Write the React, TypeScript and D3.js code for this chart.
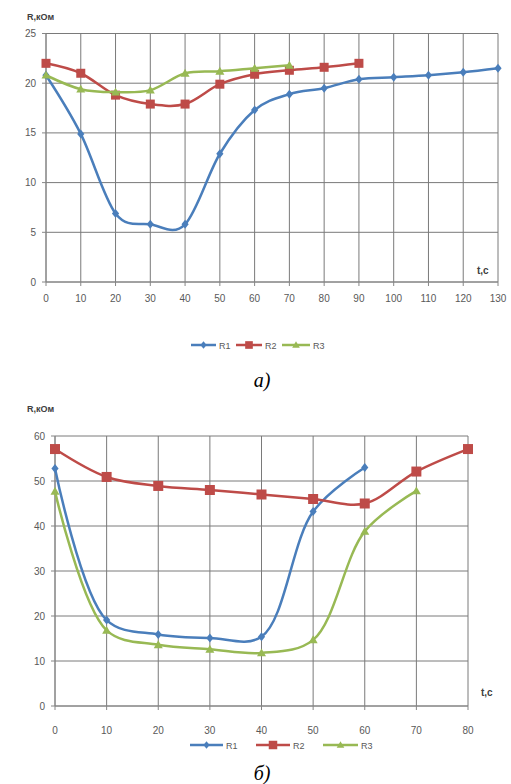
import React from "react";
import * as d3 from "d3";

// ---- Chart а) data ----
const tA = [0, 10, 20, 30, 40, 50, 60, 70, 80, 90, 100, 110, 120, 130];
const a_R1 = [20.8, 14.9, 6.9, 5.8, 5.8, 12.9, 17.3, 18.9, 19.5, 20.4, 20.6, 20.8, 21.1, 21.5];
const a_R2 = [22.0, 21.0, 18.8, 17.9, 17.9, 19.9, 20.9, 21.3, 21.6, 22.0];
const a_R3 = [20.8, 19.4, 19.1, 19.3, 21.0, 21.2, 21.5, 21.8];
const a_xTicks = [0, 10, 20, 30, 40, 50, 60, 70, 80, 90, 100, 110, 120, 130];
const a_yTicks = [0, 5, 10, 15, 20, 25];

// ---- Chart б) data ----
const b_R1 = [52.8, 19.1, 15.9, 15.1, 15.4, 43.2, 53.0];
const b_R2 = [57.1, 50.9, 48.9, 48.0, 47.0, 46.0, 45.0, 52.1, 57.1];
const b_R3 = [47.7, 16.8, 13.6, 12.6, 11.8, 14.7, 38.8, 47.8];
const b_xTicks = [0, 10, 20, 30, 40, 50, 60, 70, 80];
const b_yTicks = [0, 10, 20, 30, 40, 50, 60];

const seriesNames = ["R1", "R2", "R3"];
const COLORS = ["#4a7ebb", "#be4b48", "#98b954"];
const MARKERS = ["diamond", "square", "triangle"];

const FONT = "'Liberation Sans', Arial, sans-serif";

function Marker({ kind, x, y, color, s }: any) {
  if (kind === "diamond") {
    return <path d={`M${x},${y - s}L${x + s * 0.8},${y}L${x},${y + s}L${x - s * 0.8},${y}Z`} fill={color} />;
  }
  if (kind === "square") {
    return <rect x={x - s} y={y - s} width={2 * s} height={2 * s} fill={color} />;
  }
  return <path d={`M${x},${y - s}L${x + s},${y + s * 0.75}L${x - s},${y + s * 0.75}Z`} fill={color} />;
}

function Chart(props: any) {
  const { x0, x1, y0, y1, xMax, yMax, xTicks, yTicks, series, tickLabelY, legendY, legendItems, yLabelPos, tLabelPos, mk, alpha } = props;
  const x = d3.scaleLinear().domain([0, xMax]).range([x0, x1]);
  const y = d3.scaleLinear().domain([0, yMax]).range([y0, y1]);
  const line = d3
    .line<number>()
    .x((_, i) => x(tA[i]))
    .y((d) => y(d))
    .curve(d3.curveCatmullRom.alpha(alpha));
  return (
    <g fontFamily={FONT}>
      {yTicks.map((v: number) => (
        <line key={"gy" + v} x1={x0} x2={x1} y1={y(v)} y2={y(v)} stroke="#7a7a7a" strokeWidth={1} />
      ))}
      {xTicks.map((v: number) => (
        <line key={"gx" + v} x1={x(v)} x2={x(v)} y1={y0} y2={y1} stroke="#7a7a7a" strokeWidth={1} />
      ))}
      <line x1={x0} x2={x0} y1={y0} y2={y1} stroke="#868686" strokeWidth={1} />
      <line x1={x0} x2={x1} y1={y0} y2={y0} stroke="#868686" strokeWidth={1} />
      {yTicks.map((v: number) => (
        <line key={"ty" + v} x1={x0 - 4} x2={x0} y1={y(v)} y2={y(v)} stroke="#868686" />
      ))}
      {xTicks.map((v: number) => (
        <line key={"tx" + v} x1={x(v)} x2={x(v)} y1={y0} y2={y0 + 4} stroke="#868686" />
      ))}
      {yTicks.map((v: number) => (
        <text key={"ly" + v} x={x0 - 10} y={y(v) + 3.5} textAnchor="end" fontSize={10} fill="#595959">
          {v}
        </text>
      ))}
      {xTicks.map((v: number) => (
        <text key={"lx" + v} x={x(v)} y={tickLabelY} textAnchor="middle" fontSize={10} fill="#595959">
          {v}
        </text>
      ))}
      <text x={yLabelPos[0]} y={yLabelPos[1]} fontSize={9} fill="#404040" fontWeight="bold">
        R,кОм
      </text>
      <text x={tLabelPos[0]} y={tLabelPos[1]} fontSize={10} fill="#404040" fontWeight="bold">
        t,c
      </text>
      {series.map((vals: number[], si: number) => (
        <g key={"s" + si}>
          <path d={line(vals) || ""} fill="none" stroke={COLORS[si]} strokeWidth={2.5} />
          {vals.map((v, i) => (
            <Marker key={i} kind={MARKERS[si]} x={x(tA[i])} y={y(v)} color={COLORS[si]} s={mk[si]} />
          ))}
        </g>
      ))}
      {legendItems.map((it: number[], si: number) => (
        <g key={"lg" + si}>
          <line x1={it[0]} x2={it[1]} y1={legendY} y2={legendY} stroke={COLORS[si]} strokeWidth={2.5} />
          <Marker kind={MARKERS[si]} x={(it[0] + it[1]) / 2} y={legendY} color={COLORS[si]} s={mk[si] * 0.85} />
          <text x={it[1] + 3} y={legendY + 3.5} fontSize={9} fill="#595959">
            {seriesNames[si]}
          </text>
        </g>
      ))}
    </g>
  );
}

export default function App() {
  return (
    <svg width={511} height={784} style={{ position: "absolute", left: 0, top: 0, background: "#fff" }}>
      <rect width={511} height={784} fill="#fff" />
      <Chart
        x0={46}
        x1={498}
        y0={282}
        y1={33.5}
        xMax={130}
        yMax={25}
        xTicks={a_xTicks}
        yTicks={a_yTicks}
        series={[a_R1, a_R2, a_R3]}
        tickLabelY={302}
        legendY={345}
        legendItems={[
          [191, 216],
          [236, 262],
          [282, 310],
        ]}
        yLabelPos={[27, 20]}
        tLabelPos={[477, 274]}
        mk={[4.5, 4.5, 4.5]}
        alpha={0}
      />
      <text x={262} y={387} textAnchor="middle" fontSize={20} fontStyle="italic" fontFamily="'Liberation Serif', 'Times New Roman', serif">
        а)
      </text>
      <Chart
        x0={55}
        x1={468}
        y0={706}
        y1={436}
        xMax={80}
        yMax={60}
        xTicks={b_xTicks}
        yTicks={b_yTicks}
        series={[b_R1, b_R2, b_R3]}
        tickLabelY={734}
        legendY={745}
        legendItems={[
          [190, 223],
          [256, 290],
          [323, 358],
        ]}
        yLabelPos={[27, 412]}
        tLabelPos={[481, 696]}
        mk={[4.5, 5, 4.5]}
        alpha={0.5}
      />
      <text x={262} y={780} textAnchor="middle" fontSize={20} fontStyle="italic" fontFamily="'Liberation Serif', 'Times New Roman', serif">
        б)
      </text>
    </svg>
  );
}
